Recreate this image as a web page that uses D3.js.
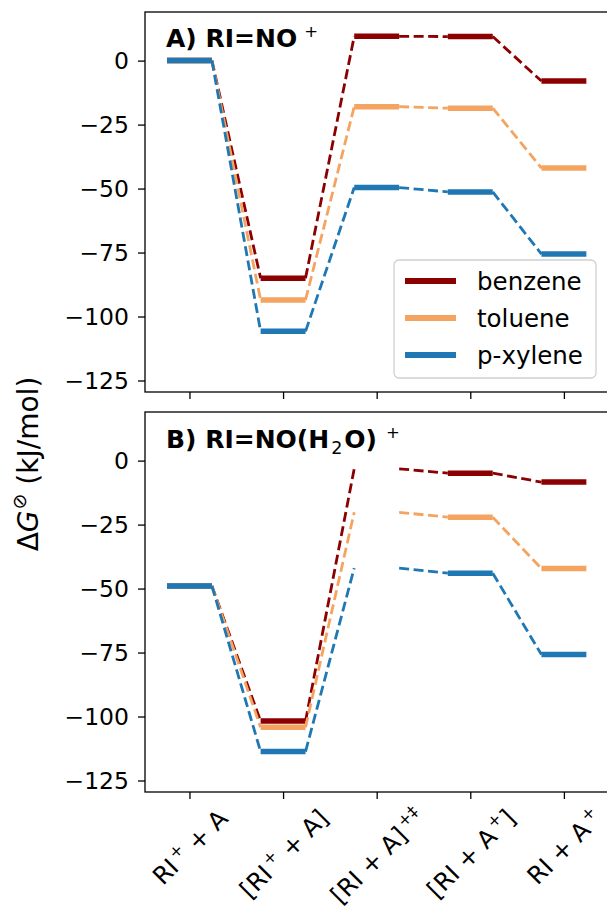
<!DOCTYPE html>
<html><head><meta charset="utf-8">
<script src="https://cdn.jsdelivr.net/npm/d3@7"></script>
<style>body{margin:0;background:#fff}svg{display:block}text{font-family:"DejaVu Sans",sans-serif;fill:#000}</style>
</head><body>
<svg id="c" width="607" height="909"></svg>
<script>
// ---------- data ----------
const steps = [0, 1, 2, 3, 4];
const tickLabels = [
  [["RI", ""], ["+", "sup"], [" + A", ""]],
  [["[RI", ""], ["+", "sup"], [" + A]", ""]],
  [["[RI + A]", ""], ["+‡", "sup"]],
  [["[RI + A", ""], ["+", "sup"], ["]", ""]],
  [["RI + A", ""], ["+", "sup"]]
];
const seriesNames = ["benzene", "toluene", "p-xylene"];
const seriesColors = ["#8b0000", "#f4a460", "#1f77b4"];
const yTicks = [0, -25, -50, -75, -100, -125];

// Panel A: RI = NO+
const panelA_benzene = [0, -85, 9.5, 9.4, -8];
const panelA_toluene = [0, -93.5, -18, -18.6, -42];
const panelA_pxylene = [0, -105.8, -49.6, -51.3, -75.6];
const panelA_drawLevel = [true, true, true, true, true];

// Panel B: RI = NO(H2O)+
const panelB_benzene = [-49, -101.8, -3.2, -4.9, -8.4];
const panelB_toluene = [-49, -104.2, -20.2, -22.1, -42.2];
const panelB_pxylene = [-49, -113.7, -42, -44, -75.8];
const panelB_drawLevel = [true, true, false, true, true];

// ---------- layout ----------
const svg = d3.select("#c");
const left = 145, right = 610.7;
const panels = [
  {top: 12, bottom: 392, data: [panelA_benzene, panelA_toluene, panelA_pxylene], draw: panelA_drawLevel,
   title: [["A) RI=NO", "b"], ["+", "sup"]], titleY: 47, legend: true},
  {top: 412, bottom: 792, data: [panelB_benzene, panelB_toluene, panelB_pxylene], draw: panelB_drawLevel,
   title: [["B) RI=NO(H", "b"], ["2", "sub"], ["O)", "b"], ["+", "sup"]], titleY: 448, legend: false}
];
const x = d3.scaleLinear().domain([-0.475, 4.5]).range([left, right]);
const hw = 0.24;
const FS = 23.5;

function addRich(textSel, parts, fs, supDx, subDx) {
  let shift = 0, prevKind = "";
  parts.forEach(([s, kind]) => {
    const t = textSel.append("tspan").text(s);
    let target = 0;
    if (kind === "b") t.attr("font-weight", "bold");
    if (kind === "sup") { t.attr("font-size", fs * 0.66).attr("dx", supDx).attr("font-weight", "normal"); target = -fs * 0.42; }
    if (kind === "sub") { t.attr("font-size", fs * 0.7).attr("font-weight", "normal").attr("dx", subDx || 0); target = fs * 0.22; }
    if (prevKind === "sub") t.attr("dx", subDx || 0);
    t.attr("dy", target - shift);
    shift = target;
    prevKind = kind;
  });
}

panels.forEach((p, pi) => {
  const y = d3.scaleLinear().domain([-129.5, 19]).range([p.bottom, p.top]);
  const g = svg.append("g");
  const clipId = "clip" + pi;
  svg.append("clipPath").attr("id", clipId).append("rect")
    .attr("x", left).attr("y", p.top).attr("width", right - left).attr("height", p.bottom - p.top);
  const plot = g.append("g").attr("clip-path", `url(#${clipId})`);

  p.data.forEach((vals, si) => {
    const col = seriesColors[si];
    for (let i = 0; i < steps.length - 1; i++) {
      plot.append("line")
        .attr("x1", x(steps[i] + hw)).attr("y1", y(vals[i]))
        .attr("x2", x(steps[i + 1] - hw)).attr("y2", y(vals[i + 1]))
        .attr("stroke", col).attr("stroke-width", 2.8).attr("stroke-dasharray", "10,4.5");
    }
    steps.forEach((s, i) => {
      if (!p.draw[i]) return;
      plot.append("line")
        .attr("x1", x(s - hw)).attr("x2", x(s + hw))
        .attr("y1", y(vals[i])).attr("y2", y(vals[i]))
        .attr("stroke", col).attr("stroke-width", 5.5);
    });
  });

  g.append("rect").attr("x", left).attr("y", p.top).attr("width", right - left).attr("height", p.bottom - p.top)
    .attr("fill", "none").attr("stroke", "#000").attr("stroke-width", 1.3);

  const ya = g.append("g").attr("transform", `translate(${left},0)`)
    .call(d3.axisLeft(y).tickValues(yTicks).tickSize(7).tickSizeOuter(0).tickPadding(9));
  ya.select(".domain").remove();
  ya.selectAll("line").attr("stroke-width", 1.3);
  ya.selectAll("text").attr("font-size", FS).attr("font-family", "DejaVu Sans");

  const xa = g.append("g").attr("transform", `translate(0,${p.bottom})`)
    .call(d3.axisBottom(x).tickValues(steps).tickSize(7).tickSizeOuter(0).tickFormat(""));
  xa.select(".domain").remove();
  xa.selectAll("line").attr("stroke-width", 1.3);

  const tt = g.append("text").attr("x", 166).attr("y", p.titleY).attr("font-size", 25);
  addRich(tt, p.title, 25, pi === 0 ? 7 : 9, 2);

  if (p.legend) {
    const lg = g.append("g");
    lg.append("rect").attr("x", 394).attr("y", 260).attr("width", 202).attr("height", 118).attr("rx", 5)
      .attr("fill", "#fff").attr("fill-opacity", 0.85).attr("stroke", "#d0d0d0").attr("stroke-width", 1.3);
    seriesNames.forEach((n, i) => {
      const yy = 281 + i * 37;
      lg.append("line").attr("x1", 405).attr("x2", 456).attr("y1", yy).attr("y2", yy)
        .attr("stroke", seriesColors[i]).attr("stroke-width", 6);
      lg.append("text").attr("x", 477).attr("y", yy).attr("dy", "0.35em").attr("font-size", 24.5).text(n);
    });
  }
});

// x tick labels (rotated 45°, bbox centred on tick)
const bottomY = panels[1].bottom;
const XFS = 24.5;
tickLabels.forEach((parts, i) => {
  const t = svg.append("text").attr("font-size", XFS).attr("x", 0).attr("y", 0);
  addRich(t, parts, XFS, 3, 0);
  const bb = t.node().getBBox();
  const rotH = (bb.width + bb.height) / Math.SQRT2;
  const cx = x(steps[i]), cy = bottomY + 10 + rotH / 2;
  const ox = bb.x + bb.width / 2, oy = bb.y + bb.height / 2;
  t.attr("transform", `translate(${cx},${cy}) rotate(-45) translate(${-ox},${-oy})`);
});

// y label
const yl = svg.append("text").attr("transform", "translate(38,464) rotate(-90)")
  .attr("text-anchor", "middle").attr("font-size", 28);
yl.append("tspan").text("Δ");
yl.append("tspan").attr("font-style", "italic").text("G");
yl.append("tspan").attr("font-size", 19).attr("dy", -12).attr("dx", 1).text("⊘");
yl.append("tspan").attr("dy", 12).text(" (kJ/mol)");
</script>
</body></html>
